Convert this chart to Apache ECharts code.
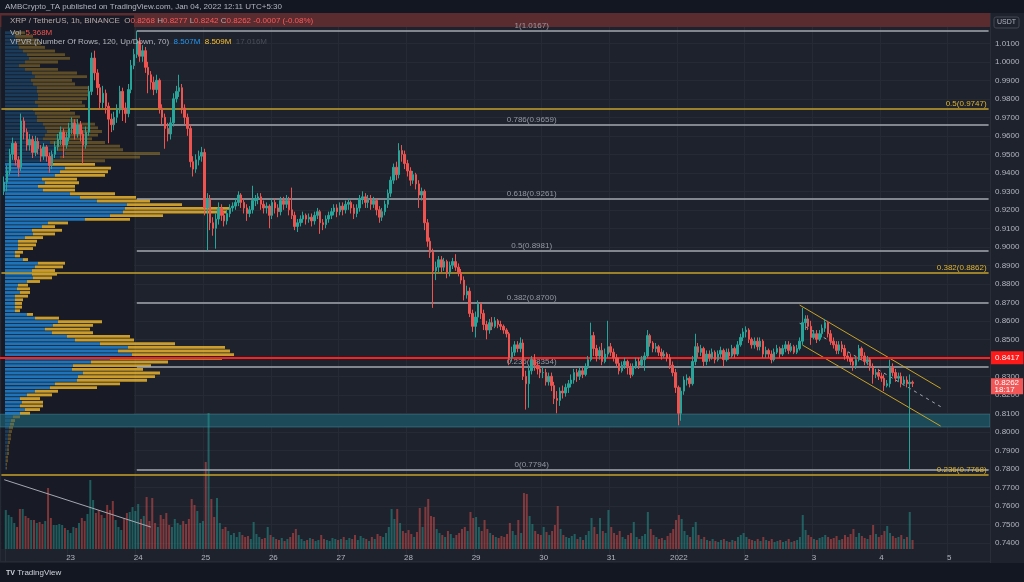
<!DOCTYPE html>
<html><head><meta charset="utf-8">
<script src="https://cdn.jsdelivr.net/npm/echarts@6/dist/echarts.min.js"></script>
<style>html,body{margin:0;padding:0;background:#1e222d;}#c{width:1024px;height:582px;}</style>
</head><body><div id="c"></div>
<script>
// ---------- DATA ----------
const startTime = Date.UTC(2021, 11, 22, 0, 0);   // first hourly category
const categoryCount = 351;                       // Dec 22 00:00 .. Jan 5 14:00
const dayLabels = ['22','23','24','25','26','27','28','29','30','31','2022','2','3','4','5'];
const firstCandleIndex = 1;
const firstOpen = 0.930;
const closes = [
 // Dec 22 (01h..23h)
 .935,.941,.950,.956,.947,.943,.968,.962,.955,.958,.951,.957,.953,.949,.954,.949,.944,.950,.954,.958,.962,.955,.959,
 // Dec 23
 .964,.967,.961,.966,.961,.955,.962,.984,1.002,.994,.986,.978,.983,.976,.969,.966,.970,.974,.984,.975,.972,.985,.998,1.004,
 // Dec 24
 1.011,1.003,1.006,.997,.993,.989,.985,.990,.975,.970,.964,.961,.967,.980,.984,.986,.975,.970,.964,.946,.942,.947,.949,.951,
 // Dec 25
 .921,.926,.913,.910,.915,.921,.917,.914,.918,.921,.922,.924,.928,.924,.921,.918,.920,.925,.926,.927,.923,.921,.922,.917,
 // Dec 26
 .924,.921,.919,.925,.923,.925,.920,.917,.911,.913,.915,.917,.915,.916,.914,.917,.919,.913,.912,.915,.917,.919,.921,.919,
 // Dec 27
 .922,.920,.923,.924,.921,.918,.921,.926,.927,.924,.926,.923,.925,.920,.916,.919,.923,.929,.936,.943,.939,.952,.950,.945,
 // Dec 28
 .941,.936,.939,.934,.928,.930,.913,.903,.897,.887,.889,.893,.889,.892,.886,.890,.892,.889,.886,.882,.874,.876,.864,.857,
 // Dec 29
 .862,.869,.864,.858,.855,.859,.857,.860,.858,.857,.855,.853,.840,.843,.847,.845,.848,.830,.826,.833,.839,.836,.834,.832,
 // Dec 30
 .832,.827,.830,.825,.818,.817,.822,.821,.824,.826,.828,.832,.830,.833,.831,.835,.839,.852,.845,.841,.844,.838,.842,.846,
 // Dec 31
 .843,.840,.837,.833,.836,.838,.835,.831,.835,.838,.836,.839,.841,.852,.848,.845,.846,.843,.841,.842,.840,.836,.832,.824,
 // Jan 1
 .810,.822,.828,.829,.826,.838,.846,.843,.845,.838,.842,.840,.843,.839,.842,.844,.839,.843,.841,.845,.842,.847,.851,.854,
 // Jan 2
 .855,.850,.847,.849,.846,.849,.842,.844,.842,.839,.843,.845,.842,.845,.847,.844,.846,.843,.845,.849,.859,.861,.857,.851,
 // Jan 3
 .853,.850,.853,.856,.859,.853,.849,.847,.844,.847,.845,.841,.840,.838,.836,.839,.845,.841,.838,.839,.835,.831,.832,.830,
 // Jan 4
 .829,.825,.826,.835,.832,.829,.830,.826,.828,.826,.8268,.8262
];
const highs = [
 .938,.944,.953,.959,.957,.949,.972,.970,.964,.961,.960,.960,.959,.955,.956,.955,.951,.952,.957,.961,.965,.964,.962,
 .967,.970,.969,.969,.968,.963,.965,.987,1.005,1.006,.996,.988,.987,.985,.978,.972,.973,.977,.987,.986,.978,.988,1.001,1.007,
 1.0167,1.013,1.009,1.008,1.000,.995,.992,.993,.991,.977,.972,.967,.970,.983,.987,.993,.988,.977,.972,.966,.949,.950,.952,.954,
 .953,.929,.928,.916,.918,.924,.923,.919,.920,.923,.924,.926,.930,.929,.926,.923,.922,.933,.928,.929,.929,.925,.924,.923,
 .926,.926,.923,.927,.927,.928,.927,.932,.919,.915,.917,.919,.918,.918,.918,.919,.921,.920,.915,.917,.919,.921,.923,.923,
 .924,.924,.925,.926,.925,.923,.923,.928,.930,.929,.928,.928,.927,.926,.922,.921,.925,.931,.938,.945,.946,.956,.955,.952,
 .947,.943,.941,.940,.936,.932,.931,.915,.905,.899,.892,.895,.895,.894,.893,.892,.894,.896,.891,.888,.884,.879,.878,.866,
 .865,.871,.870,.866,.860,.861,.862,.862,.861,.860,.858,.856,.854,.846,.849,.849,.851,.850,.833,.836,.841,.842,.838,.836,
 .835,.834,.832,.832,.827,.822,.824,.825,.826,.828,.831,.834,.834,.835,.835,.837,.841,.859,.854,.847,.846,.848,.845,.860,
 .848,.845,.842,.840,.838,.840,.839,.837,.837,.840,.840,.841,.843,.855,.853,.849,.848,.847,.845,.844,.843,.842,.838,.834,
 .825,.824,.830,.831,.830,.841,.853,.848,.847,.846,.844,.844,.845,.844,.844,.846,.845,.845,.845,.847,.846,.849,.853,.856,
 .857,.856,.851,.851,.851,.851,.850,.846,.845,.844,.845,.847,.846,.847,.849,.849,.848,.847,.847,.851,.867,.863,.863,.860,
 .855,.855,.855,.858,.861,.860,.855,.851,.849,.849,.849,.847,.843,.842,.840,.841,.847,.846,.843,.841,.840,.837,.834,.834,
 .832,.831,.828,.839,.837,.834,.832,.832,.830,.830,.831,.8277
];
const lows = [
 .928,.930,.939,.947,.944,.938,.941,.958,.952,.952,.948,.949,.950,.946,.947,.946,.940,.942,.948,.952,.955,.948,.953,
 .957,.961,.958,.959,.957,.945,.953,.960,.982,.990,.982,.974,.975,.972,.956,.962,.963,.967,.972,.968,.967,.970,.983,.996,
 1.002,1.000,1.000,.994,.983,.985,.982,.983,.972,.966,.953,.957,.958,.965,.978,.981,.972,.966,.960,.943,.938,.940,.944,.946,
 .917,.898,.909,.906,.899,.912,.914,.911,.912,.916,.919,.920,.922,.921,.918,.914,.916,.918,.922,.923,.920,.918,.918,.910,
 .915,.918,.916,.917,.920,.921,.917,.915,.909,.908,.911,.913,.912,.913,.911,.912,.915,.907,.909,.910,.913,.915,.917,.916,
 .917,.917,.918,.920,.918,.915,.916,.919,.923,.921,.921,.920,.921,.917,.913,.914,.917,.921,.927,.934,.936,.937,.946,.942,
 .938,.933,.934,.931,.921,.925,.909,.900,.894,.867,.882,.886,.886,.887,.883,.884,.888,.887,.884,.880,.871,.872,.862,.854,
 .851,.859,.861,.855,.850,.853,.855,.856,.856,.855,.853,.851,.836,.838,.841,.843,.843,.828,.812,.813,.831,.833,.831,.829,
 .829,.825,.825,.822,.815,.810,.814,.818,.819,.821,.824,.826,.827,.828,.829,.830,.834,.838,.841,.838,.839,.836,.837,.840,
 .841,.838,.835,.831,.832,.834,.831,.829,.830,.834,.834,.835,.833,.840,.846,.843,.843,.841,.839,.840,.838,.834,.830,.821,
 .8035,.806,.820,.825,.824,.825,.836,.840,.841,.835,.836,.838,.839,.837,.838,.840,.835,.838,.839,.840,.840,.841,.846,.849,
 .851,.848,.845,.845,.844,.844,.840,.840,.840,.837,.838,.842,.840,.841,.843,.842,.843,.842,.842,.844,.847,.855,.855,.847,
 .850,.848,.849,.851,.854,.851,.847,.845,.842,.842,.843,.839,.838,.836,.833,.834,.838,.839,.836,.836,.833,.826,.829,.828,
 .827,.822,.824,.824,.830,.827,.827,.824,.825,.824,.7794,.8242
];
const volumes = [
 39,34,32,26,22,40,40,33,31,29,29,26,27,25,28,61,31,24,24,25,24,21,19,
 16,22,21,26,31,28,35,69,49,36,39,34,31,44,39,48,29,22,19,31,36,37,42,38,
 45,30,33,52,28,51,26,22,34,30,36,24,22,30,26,24,28,25,30,50,44,38,26,28,
 87,136,50,32,51,26,20,22,18,14,16,12,17,14,12,13,10,27,15,12,10,11,22,14,
 12,10,9,11,8,10,12,16,20,14,10,8,9,11,10,8,9,14,10,9,8,11,10,9,
 10,12,9,11,10,14,9,13,11,10,8,12,10,15,13,12,16,22,40,30,40,26,18,16,
 19,15,12,17,41,22,42,50,33,32,20,16,14,12,18,15,11,14,16,20,22,18,37,31,
 32,22,18,29,20,16,14,12,11,13,12,15,26,18,14,29,16,56,55,33,25,18,15,14,
 22,17,14,18,24,43,20,14,12,11,13,15,10,12,9,14,18,31,22,15,31,18,16,39,
 22,16,14,18,12,10,14,16,27,12,10,13,15,37,20,14,12,10,11,9,13,16,20,29,
 34,30,18,14,12,22,27,14,10,12,9,8,10,8,7,9,10,8,7,9,8,12,14,16,
 12,10,9,8,10,8,12,9,8,10,7,8,9,7,8,10,7,8,9,12,34,19,14,12,
 10,9,11,12,14,12,10,11,13,9,10,14,12,15,20,12,16,13,11,10,14,24,15,12,
 14,18,23,16,13,11,12,14,10,12,37,9
];
// Volume profile (120 rows, top row first), up / down volume
const vpHigh = 1.0167, vpLow = 0.7794, vpRows = 120;
const vpUp = [8,10,12,13,14,18,22,24,20,14,20,27,30,26,28,32,32,33,33,30,33,28,30,32,32,38,40,42,40,38,45,50,52,60,55,45,
 45,60,55,50,37,40,33,38,65,75,92,122,120,118,105,80,43,37,27,28,20,13,13,13,10,10,18,33,30,27,27,28,22,13,12,15,10,10,10,10,10,22,30,53,48,40,47,62,70,95,123,113,127,105,86,68,67,78,73,72,50,45,30,22,15,17,15,20,15,
 8,6,5,4,4,3,3,3,2,2,2,1,1,1,1];
const vpDown = [12,18,21,23,26,32,38,41,33,21,33,45,52,41,42,51,51,50,49,47,47,37,40,43,41,52,53,55,53,49,55,65,66,95,80,55,
 45,46,48,50,35,34,37,32,45,56,53,55,105,104,53,45,20,13,30,22,18,19,18,15,8,5,5,27,28,23,25,19,13,10,13,10,13,8,7,7,5,6,24,44,40,45,41,63,59,75,97,112,102,112,77,78,71,77,77,70,65,47,23,25,20,21,23,15,10,
 7,4,4,4,3,3,3,2,2,2,2,2,2,1,1];
const vaFirstRow = 36, vaLastRow = 104;
// Fibonacci levels [ratio, price]
const fibWhite = [[1,1.0167],[0.786,0.9659],[0.618,0.9261],[0.5,0.8981],[0.382,0.8700],[0.236,0.8354],[0,0.7794]];
const fibYellow = [[0.5,0.9747],[0.382,0.8862],[0.236,0.7768]];
const fibWhiteStart = 48;
const keyLevel = 0.8417;
const lastPrice = 0.8262, countdown = '18:17';
const demandZone = [0.8095, 0.8026];
const channelUpper = [[283,0.8685],[333,0.8235]];
const channelLower = [[284,0.8469],[333,0.8031]];
const channelMid = [[283,0.8587],[333,0.8136]];
const volumeTrend = [[1,0.7741],[53,0.7485]];
const header = {o:'0.8268', h:'0.8277', l:'0.8242', c:'0.8262', chg:'-0.0007 (-0.08%)', vol:'5.368M', vpUp:'8.507M', vpDn:'8.509M', vpTot:'17.016M'};

// ---------- BUILD ----------
const FONT = 'Liberation Sans';
const categories = [];
for (let i = 0; i < categoryCount; i++) categories.push(new Date(startTime + i * 3600e3).toISOString().slice(0, 13));
const candleData = categories.map(() => ['-','-','-','-']);
const volData = categories.map(() => '-');
let prev = firstOpen;
closes.forEach((c, k) => {
  const i = firstCandleIndex + k;
  candleData[i] = [prev, c, lows[k], highs[k]];
  volData[i] = {value: volumes[k], itemStyle: {color: c >= prev ? 'rgba(38,166,154,0.48)' : 'rgba(239,83,80,0.48)'}};
  prev = c;
});
const vpStep = (vpHigh - vpLow) / vpRows;
const vpData = vpUp.map((u, k) => [k, u, vpDown[k]]);
const dayInterval = (idx) => idx % 24 === 0;

const option = {
  animation: false,
  backgroundColor: '#1e222d',
  textStyle: {fontFamily: FONT},
  grid: [
    {left: 0, right: 34, top: 6.3, bottom: 20.7},
    {left: 0, right: 34, top: 300, bottom: 33}
  ],
  xAxis: [
    {type: 'category', gridIndex: 0, data: categories, boundaryGap: true,
     axisLine: {show: false}, axisTick: {show: false}, axisLabel: {show: false},
     splitLine: {show: true, interval: dayInterval, lineStyle: {color: '#262a35'}}},
    {type: 'category', gridIndex: 1, data: categories, boundaryGap: true,
     axisLine: {show: false}, axisTick: {show: false},
     axisLabel: {interval: dayInterval, color: '#b2b5be', fontSize: 8, margin: 5,
       formatter: (v, idx) => (idx === 0 ? '' : dayLabels[idx / 24])},
     splitLine: {show: false}},
    {type: 'value', gridIndex: 0, min: -5, max: 985, show: false}
  ],
  yAxis: [
    {type: 'value', gridIndex: 0, position: 'right', min: 0.73, max: 1.03, interval: 0.01,
     axisLine: {show: true, lineStyle: {color: '#2a2e39'}}, axisTick: {show: false},
     axisLabel: {color: '#b2b5be', fontSize: 8, margin: 5,
       formatter: (v) => (v < 0.735 || v > 1.015 ? '' : v.toFixed(4))},
     splitLine: {show: true, lineStyle: {color: '#262a35'}}},
    {type: 'value', gridIndex: 1, min: 0, max: 249, show: false}
  ],
  series: [
    { // backgrounds: VPVR zone + demand zone
      type: 'line', xAxisIndex: 0, yAxisIndex: 0, data: [], z: 1, silent: true,
      markArea: {silent: true, data: [
        [{xAxis: 0, yAxis: 0.7367, itemStyle: {color: '#181b25'}}, {xAxis: 47, yAxis: 1.025}],
        [{yAxis: demandZone[0], itemStyle: {color: '#1c4a59', borderColor: 'rgba(70,150,170,0.45)', borderWidth: 1}}, {yAxis: demandZone[1]}]
      ]}
    },
    { // volume profile
      type: 'custom', name: 'VPVR', xAxisIndex: 2, yAxisIndex: 0, z: 3, silent: true,
      data: vpData, encode: {x: 1, y: 0},
      renderItem: (params, api) => {
        const k = api.value(0), up = api.value(1), dn = api.value(2);
        const top = vpHigh - k * vpStep, bot = top - vpStep;
        const a = api.coord([0, top]), b = api.coord([up, bot]), c = api.coord([up + dn, bot]);
        const inVA = k >= vaFirstRow && k <= vaLastRow;
        const y = a[1] + 0.4, h = Math.max(1, b[1] - a[1] - 0.8);
        return {type: 'group', children: [
          {type: 'rect', shape: {x: a[0], y, width: b[0] - a[0], height: h}, style: {fill: inVA ? 'rgba(33,150,243,0.72)' : 'rgba(33,150,243,0.26)'}},
          {type: 'rect', shape: {x: b[0], y, width: c[0] - b[0], height: h}, style: {fill: inVA ? 'rgba(251,192,45,0.78)' : 'rgba(251,192,45,0.3)'}}
        ]};
      }
    },
    { // fib + annotation lines
      type: 'line', xAxisIndex: 0, yAxisIndex: 0, data: [], z: 4, silent: true,
      markLine: {silent: true, symbol: ['none', 'none'], animation: false, data: [
        ...fibWhite.map(([r, p]) => [{coord: [fibWhiteStart, p], lineStyle: {color: '#a5a8b1', width: 1.5, type: 'solid'}, label: {show: false}}, {coord: [categoryCount - 1, p]}]),
        ...fibYellow.map(([r, p]) => [{coord: [0, p], lineStyle: {color: '#c9a227', width: 1.5, type: 'solid'},
            label: {show: true, position: 'insideEndTop', distance: [2, 1], color: '#e0b52e', fontSize: 8, formatter: r + '(' + p.toFixed(4) + ')'}}, {coord: [categoryCount - 1, p]}]),
        [{coord: channelUpper[0], lineStyle: {color: '#c9a227', width: 1, type: 'solid'}, label: {show: false}}, {coord: channelUpper[1]}],
        [{coord: channelLower[0], lineStyle: {color: '#c9a227', width: 1, type: 'solid'}, label: {show: false}}, {coord: channelLower[1]}],
        [{coord: channelMid[0], lineStyle: {color: '#a5a8b1', width: 1, type: [3, 4]}, label: {show: false}}, {coord: channelMid[1]}],
        [{coord: volumeTrend[0], lineStyle: {color: '#a5a8b1', width: 1, type: 'solid'}, label: {show: false}}, {coord: volumeTrend[1]}]
      ]}
    },
    { // fib labels
      type: 'scatter', xAxisIndex: 0, yAxisIndex: 0, z: 5, silent: true, symbolSize: 0,
      data: fibWhite.map(([r, p]) => ({value: [188, p], label: {formatter: r + '(' + p.toFixed(4) + ')'}})),
      label: {show: true, position: 'top', distance: 1, color: '#b2b5be', fontSize: 8}
    },
    { // candles
      type: 'candlestick', xAxisIndex: 0, yAxisIndex: 0, z: 6, barWidth: 2,
      data: candleData,
      itemStyle: {color: '#26a69a', color0: '#ef5350', borderColor: '#26a69a', borderColor0: '#ef5350', borderWidth: 1},
      markLine: {silent: true, symbol: ['none', 'none'], animation: false, data: [
        {yAxis: keyLevel, lineStyle: {color: '#ff1f1f', width: 2, type: 'solid'},
         label: {show: true, position: 'end', distance: 0, formatter: keyLevel.toFixed(4), color: '#fff', backgroundColor: '#ff1a1a', padding: [3, 4, 2, 5], fontSize: 8}}
      ]}
    },
    { // last price tag on the axis
      type: 'scatter', xAxisIndex: 0, yAxisIndex: 0, z: 20, silent: true, symbolSize: 0,
      itemStyle: {opacity: 1},
      data: [[categoryCount - 1, lastPrice]],
      label: {show: true, position: 'right', distance: 2, offset: [0, 3], formatter: lastPrice.toFixed(4) + '\n' + countdown,
        color: '#fff', backgroundColor: '#f25656', padding: [1, 4, 0, 4], fontSize: 8, lineHeight: 7.5, opacity: 1}
    },
    { // volume
      type: 'bar', xAxisIndex: 1, yAxisIndex: 1, barWidth: 2, z: 2, data: volData, silent: true
    }
  ],
  graphic: [
    {type: 'rect', shape: {x: 0, y: 0, width: 1024, height: 13}, style: {fill: '#131722'}, z: 100},
    {type: 'text', x: 5, y: 2.5, z: 101, style: {text: 'AMBCrypto_TA published on TradingView.com, Jan 04, 2022 12:11 UTC+5:30', fill: '#b2b5be', font: '8px "Liberation Sans"'}},
    {type: 'rect', shape: {x: 0, y: 13, width: 990, height: 14}, style: {fill: '#5a2b2f'}, z: 1},
    {type: 'text', x: 10, y: 16.5, z: 101, style: {
      text: '{g|XRP / TetherUS, 1h, BINANCE}  {g|O}{r|' + header.o + '} {g|H}{r|' + header.h + '} {g|L}{r|' + header.l + '} {g|C}{r|' + header.c + '} {r|' + header.chg + '}',
      font: '8px "Liberation Sans"', rich: {g: {fill: '#b9a9ab', fontSize: 8}, r: {fill: '#ff5a5a', fontSize: 8}}}},
    {type: 'text', x: 10, y: 28.5, z: 101, style: {text: '{g|Vol}  {r|' + header.vol + '}', font: '8px "Liberation Sans"', rich: {g: {fill: '#b2b5be', fontSize: 8}, r: {fill: '#ef5350', fontSize: 8}}}},
    {type: 'text', x: 10, y: 37.5, z: 101, style: {text: '{g|VPVR (Number Of Rows, 120, Up/Down, 70)}  {b|' + header.vpUp + '}  {y|' + header.vpDn + '}  {d|' + header.vpTot + '}',
      font: '8px "Liberation Sans"', rich: {g: {fill: '#b2b5be', fontSize: 8}, b: {fill: '#2196f3', fontSize: 8}, y: {fill: '#fbc02d', fontSize: 8}, d: {fill: '#4a4e59', fontSize: 8}}}},
    {type: 'rect', shape: {x: 994, y: 17, width: 25, height: 11, r: 2}, style: {fill: '#1e222d', stroke: '#434651', lineWidth: 1}, z: 100},
    {type: 'text', x: 1006.5, y: 22.5, z: 101, style: {text: 'USDT', fill: '#b2b5be', font: '7px "Liberation Sans"', align: 'center', verticalAlign: 'middle'}},
    {type: 'rect', shape: {x: 0, y: 563, width: 1024, height: 19}, style: {fill: '#131722'}, z: 100},
    {type: 'text', x: 6, y: 569, z: 101, style: {text: '{t|TV} TradingView', fill: '#d1d4dc', font: '8px "Liberation Sans"', rich: {t: {fill: '#d1d4dc', fontWeight: 'bold', fontSize: 7}}}},
    {type: 'line', shape: {x1: 990.5, y1: 13, x2: 990.5, y2: 563}, style: {stroke: '#2a2e39', lineWidth: 1}, z: 99}
  ]
};
const chart = echarts.init(document.getElementById('c'), null, {renderer: 'canvas'});
chart.setOption(option);
</script>
</body></html>
